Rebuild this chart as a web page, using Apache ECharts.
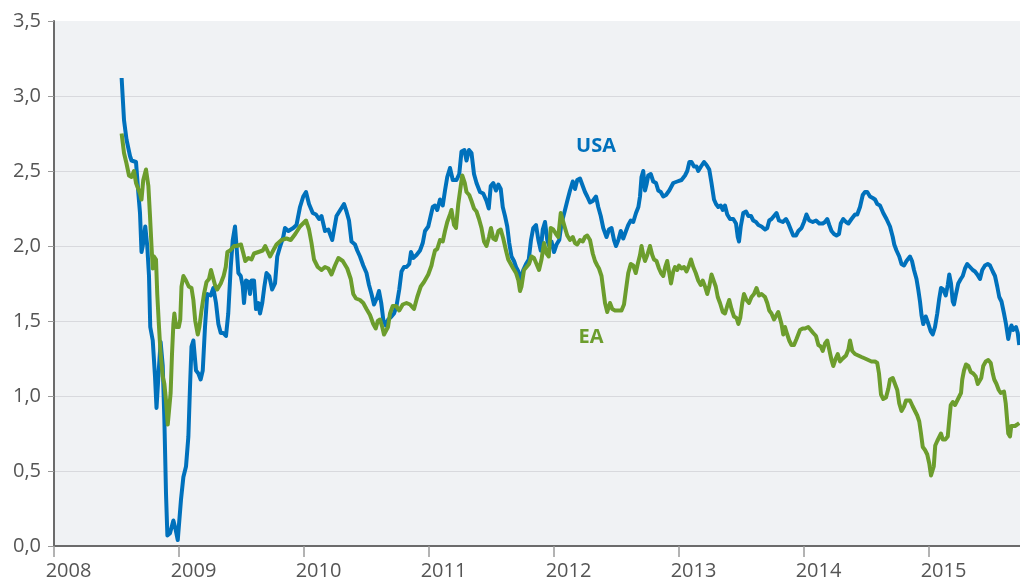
<!DOCTYPE html>
<html>
<head>
<meta charset="utf-8">
<script src="https://cdn.jsdelivr.net/npm/echarts@6/dist/echarts.min.js"></script>
<style>
  html, body { margin: 0; padding: 0; background: #fff; }
  #chart { width: 1020px; height: 582px; }
</style>
</head>
<body>
<div id="chart"></div>
<script>
// time in decimal years
const usaYears = [
  2008.541, 2008.56, 2008.58, 2008.608, 2008.62, 2008.656, 2008.675, 2008.688, 2008.70, 2008.71,
  2008.73, 2008.746, 2008.76, 2008.77, 2008.79, 2008.808, 2008.82, 2008.838, 2008.853, 2008.87,
  2008.883, 2008.896, 2008.907, 2008.928, 2008.955, 2008.973, 2008.99, 2009.003, 2009.016, 2009.035,
  2009.056, 2009.075, 2009.088, 2009.10, 2009.115, 2009.136, 2009.155, 2009.173, 2009.19, 2009.208,
  2009.226, 2009.254, 2009.275, 2009.296, 2009.315, 2009.334, 2009.354, 2009.376, 2009.394, 2009.414,
  2009.43, 2009.448, 2009.46, 2009.475, 2009.494, 2009.51, 2009.52, 2009.536, 2009.555, 2009.568,
  2009.58, 2009.60, 2009.616, 2009.635, 2009.648, 2009.666, 2009.683, 2009.70, 2009.722, 2009.745,
  2009.768, 2009.786, 2009.81, 2009.834, 2009.848, 2009.875, 2009.914, 2009.94, 2009.968, 2009.994,
  2010.016, 2010.04, 2010.07, 2010.096, 2010.12, 2010.14, 2010.168, 2010.195, 2010.226, 2010.26,
  2010.29, 2010.32, 2010.34, 2010.36, 2010.38, 2010.408, 2010.426, 2010.448, 2010.474, 2010.50,
  2010.52, 2010.54, 2010.56, 2010.586, 2010.60, 2010.618, 2010.634, 2010.654, 2010.674, 2010.70,
  2010.72, 2010.74, 2010.762, 2010.78, 2010.80, 2010.82, 2010.842, 2010.856, 2010.874, 2010.90,
  2010.928, 2010.95, 2010.968, 2010.994, 2011.008, 2011.03, 2011.048, 2011.066, 2011.088, 2011.11,
  2011.128, 2011.146, 2011.168, 2011.19, 2011.22, 2011.242, 2011.26, 2011.283, 2011.30, 2011.32,
  2011.34, 2011.36, 2011.38, 2011.408, 2011.434, 2011.46, 2011.478, 2011.494, 2011.514, 2011.536,
  2011.555, 2011.574, 2011.59, 2011.608, 2011.626, 2011.642, 2011.66, 2011.68, 2011.696, 2011.715,
  2011.734, 2011.754, 2011.776, 2011.798, 2011.816, 2011.834, 2011.856, 2011.875, 2011.894, 2011.91,
  2011.928, 2011.946, 2011.962, 2011.98, 2012.0, 2012.02, 2012.042, 2012.06, 2012.088, 2012.106,
  2012.128, 2012.15, 2012.168, 2012.186, 2012.208, 2012.23, 2012.248, 2012.266, 2012.288, 2012.31,
  2012.336, 2012.354, 2012.374, 2012.394, 2012.42, 2012.44, 2012.46, 2012.48, 2012.496, 2012.515,
  2012.534, 2012.554, 2012.576, 2012.594, 2012.614, 2012.634, 2012.656, 2012.675, 2012.688, 2012.70,
  2012.714, 2012.728, 2012.74, 2012.754, 2012.774, 2012.794, 2012.816, 2012.834, 2012.854, 2012.874,
  2012.896, 2012.922, 2012.954, 2012.986, 2013.02, 2013.048, 2013.066, 2013.083, 2013.10, 2013.12,
  2013.14, 2013.154, 2013.176, 2013.20, 2013.22, 2013.242, 2013.26, 2013.28, 2013.296, 2013.314,
  2013.334, 2013.35, 2013.368, 2013.386, 2013.408, 2013.434, 2013.456, 2013.47, 2013.48, 2013.494,
  2013.514, 2013.536, 2013.555, 2013.576, 2013.594, 2013.616, 2013.635, 2013.66, 2013.688, 2013.706,
  2013.722, 2013.74, 2013.76, 2013.78, 2013.80, 2013.83, 2013.856, 2013.875, 2013.894, 2013.914,
  2013.936, 2013.955, 2013.98, 2014.0, 2014.02, 2014.042, 2014.07, 2014.096, 2014.122, 2014.15,
  2014.168, 2014.186, 2014.202, 2014.22, 2014.24, 2014.26, 2014.28, 2014.294, 2014.314, 2014.336,
  2014.355, 2014.38, 2014.408, 2014.426, 2014.448, 2014.47, 2014.488, 2014.506, 2014.528, 2014.55,
  2014.568, 2014.586, 2014.608, 2014.634, 2014.66, 2014.688, 2014.71, 2014.722, 2014.74, 2014.762,
  2014.78, 2014.80, 2014.82, 2014.848, 2014.864, 2014.88, 2014.90, 2014.914, 2014.928, 2014.94,
  2014.954, 2014.974, 2014.995, 2015.014, 2015.03, 2015.048, 2015.066, 2015.082, 2015.096, 2015.114,
  2015.134, 2015.15, 2015.162, 2015.176, 2015.19, 2015.20, 2015.216, 2015.234, 2015.254, 2015.27,
  2015.288, 2015.306, 2015.328, 2015.35, 2015.368, 2015.386, 2015.408, 2015.426, 2015.448, 2015.47,
  2015.488, 2015.51, 2015.528, 2015.546, 2015.562, 2015.58, 2015.60, 2015.616, 2015.634, 2015.648,
  2015.66, 2015.674, 2015.696, 2015.71, 2015.722
];
const usaValues = [
  3.12, 2.84, 2.71, 2.60, 2.57, 2.56, 2.35, 2.22, 1.96, 2.00,
  2.13, 2.00, 1.80, 1.46, 1.37, 1.13, 0.92, 1.17, 1.36, 1.20,
  0.84, 0.35, 0.07, 0.085, 0.17, 0.11, 0.04, 0.04, 0.31, 0.46,
  0.53, 0.73, 1.06, 1.33, 1.37, 1.17, 1.15, 1.11, 1.17, 1.46,
  1.68, 1.67, 1.72, 1.62, 1.48, 1.42, 1.42, 1.40, 1.55, 1.86,
  2.04, 2.13, 2.00, 1.82, 1.80, 1.73, 1.62, 1.77, 1.76, 1.68,
  1.77, 1.77, 1.58, 1.62, 1.55, 1.62, 1.73, 1.82, 1.80, 1.71,
  1.75, 1.93, 2.00, 2.06, 2.12, 2.10, 2.12, 2.14, 2.26, 2.33,
  2.36, 2.28, 2.22, 2.21, 2.18, 2.20, 2.10, 2.11, 2.04, 2.20,
  2.24, 2.28, 2.23, 2.17, 2.03, 2.01, 1.97, 1.93, 1.87, 1.82,
  1.74, 1.68, 1.61, 1.66, 1.70, 1.62, 1.51, 1.47, 1.51, 1.53,
  1.55, 1.60, 1.71, 1.83, 1.86, 1.86, 1.88, 1.96, 1.92, 1.94,
  1.97, 2.02, 2.10, 2.13, 2.12, 2.26, 2.27, 2.24, 2.31, 2.27,
  2.37, 2.46, 2.52, 2.44, 2.44, 2.48, 2.63, 2.64, 2.57, 2.64,
  2.62, 2.48, 2.42, 2.36, 2.35, 2.30, 2.25, 2.40, 2.42, 2.37,
  2.41, 2.38, 2.26, 2.20, 2.13, 2.02, 1.93, 1.90, 1.86, 1.83,
  1.77, 1.84, 1.88, 1.91, 2.04, 2.12, 2.14, 2.04, 1.97, 2.11,
  2.16, 2.04, 2.00, 2.03, 1.96, 2.01, 2.04, 2.15, 2.24, 2.30,
  2.37, 2.43, 2.38, 2.44, 2.45, 2.40, 2.36, 2.33, 2.29, 2.30,
  2.33, 2.26, 2.20, 2.12, 2.06, 2.11, 2.12, 2.04, 2.00, 2.04,
  2.10, 2.05, 2.10, 2.14, 2.17, 2.16, 2.22, 2.26, 2.33, 2.46,
  2.50, 2.37, 2.41, 2.47, 2.48, 2.43, 2.42, 2.37, 2.36, 2.33,
  2.34, 2.37, 2.42, 2.43, 2.44, 2.47, 2.50, 2.56, 2.56, 2.53,
  2.53, 2.50, 2.53, 2.56, 2.54, 2.51, 2.42, 2.31, 2.28, 2.26,
  2.27, 2.24, 2.27, 2.21, 2.18, 2.18, 2.15, 2.06, 2.03, 2.13,
  2.22, 2.23, 2.20, 2.20, 2.17, 2.16, 2.14, 2.13, 2.11, 2.12,
  2.17, 2.18, 2.20, 2.22, 2.17, 2.16, 2.18, 2.15, 2.11, 2.07,
  2.07, 2.10, 2.12, 2.16, 2.21, 2.17, 2.16, 2.17, 2.15, 2.15,
  2.16, 2.18, 2.14, 2.10, 2.08, 2.07, 2.08, 2.15, 2.18, 2.16,
  2.15, 2.18, 2.21, 2.21, 2.26, 2.34, 2.36, 2.36, 2.33, 2.32,
  2.31, 2.28, 2.27, 2.22, 2.18, 2.13, 2.06, 2.01, 1.97, 1.93,
  1.88, 1.87, 1.90, 1.93, 1.90, 1.84, 1.78, 1.71, 1.63, 1.54,
  1.48, 1.53, 1.48, 1.43, 1.41, 1.46, 1.55, 1.65, 1.72, 1.71,
  1.67, 1.74, 1.81, 1.75, 1.63, 1.61, 1.68, 1.75, 1.78, 1.80,
  1.85, 1.88, 1.86, 1.84, 1.83, 1.81, 1.78, 1.84, 1.87, 1.88,
  1.87, 1.83, 1.80, 1.73, 1.66, 1.63, 1.55, 1.48, 1.38, 1.44,
  1.47, 1.44, 1.46, 1.42, 1.34
];

const eaYears = [
  2008.541, 2008.56, 2008.58, 2008.60, 2008.62, 2008.64, 2008.656, 2008.688, 2008.70, 2008.714,
  2008.736, 2008.755, 2008.768, 2008.78, 2008.79, 2008.80, 2008.816, 2008.826, 2008.84, 2008.853,
  2008.87, 2008.883, 2008.896, 2008.91, 2008.922, 2008.933, 2008.944, 2008.955, 2008.963, 2008.976,
  2008.998, 2009.01, 2009.02, 2009.035, 2009.056, 2009.078, 2009.10, 2009.115, 2009.13, 2009.15,
  2009.163, 2009.18, 2009.20, 2009.22, 2009.24, 2009.256, 2009.27, 2009.288, 2009.306, 2009.334,
  2009.357, 2009.374, 2009.387, 2009.408, 2009.44, 2009.46, 2009.496, 2009.515, 2009.53, 2009.555,
  2009.58, 2009.60, 2009.636, 2009.67, 2009.69, 2009.706, 2009.728, 2009.744, 2009.76, 2009.78,
  2009.82, 2009.86, 2009.894, 2009.93, 2009.968, 2010.016, 2010.04, 2010.06, 2010.08, 2010.11,
  2010.14, 2010.168, 2010.195, 2010.22, 2010.248, 2010.275, 2010.31, 2010.346, 2010.374, 2010.394,
  2010.416, 2010.448, 2010.474, 2010.50, 2010.528, 2010.554, 2010.574, 2010.59, 2010.608, 2010.626,
  2010.64, 2010.656, 2010.672, 2010.688, 2010.71, 2010.736, 2010.762, 2010.79, 2010.82, 2010.848,
  2010.88, 2010.906, 2010.934, 2010.96, 2010.994, 2011.02, 2011.03, 2011.048, 2011.066, 2011.088,
  2011.11, 2011.128, 2011.146, 2011.168, 2011.18, 2011.20, 2011.216, 2011.234, 2011.254, 2011.266,
  2011.286, 2011.30, 2011.322, 2011.34, 2011.36, 2011.38, 2011.40, 2011.42, 2011.44, 2011.46,
  2011.48, 2011.496, 2011.514, 2011.534, 2011.555, 2011.574, 2011.594, 2011.616, 2011.634, 2011.654,
  2011.674, 2011.696, 2011.715, 2011.728, 2011.74, 2011.76, 2011.78, 2011.80, 2011.82, 2011.84,
  2011.86, 2011.88, 2011.90, 2011.92, 2011.94, 2011.958, 2011.974, 2011.994, 2012.016, 2012.034,
  2012.054, 2012.07, 2012.088, 2012.106, 2012.128, 2012.15, 2012.168, 2012.186, 2012.208, 2012.23,
  2012.248, 2012.266, 2012.288, 2012.31, 2012.328, 2012.346, 2012.36, 2012.38, 2012.394, 2012.408,
  2012.426, 2012.448, 2012.466, 2012.488, 2012.515, 2012.54, 2012.56, 2012.576, 2012.594, 2012.614,
  2012.634, 2012.654, 2012.67, 2012.688, 2012.70, 2012.714, 2012.728, 2012.746, 2012.768, 2012.786,
  2012.80, 2012.82, 2012.84, 2012.856, 2012.874, 2012.89, 2012.906, 2012.922, 2012.936, 2012.954,
  2012.968, 2012.986, 2013.0, 2013.02, 2013.04, 2013.06, 2013.08, 2013.096, 2013.114, 2013.134,
  2013.154, 2013.174, 2013.19, 2013.208, 2013.226, 2013.242, 2013.26, 2013.275, 2013.294, 2013.31,
  2013.328, 2013.35, 2013.368, 2013.386, 2013.402, 2013.42, 2013.44, 2013.46, 2013.475, 2013.49,
  2013.506, 2013.52, 2013.54, 2013.56, 2013.58, 2013.60, 2013.62, 2013.64, 2013.66, 2013.688,
  2013.706, 2013.722, 2013.74, 2013.76, 2013.776, 2013.794, 2013.808, 2013.82, 2013.834, 2013.848,
  2013.866, 2013.882, 2013.90, 2013.92, 2013.94, 2013.968, 2013.99, 2014.008, 2014.034, 2014.054,
  2014.074, 2014.096, 2014.115, 2014.134, 2014.15, 2014.168, 2014.186, 2014.202, 2014.22, 2014.234,
  2014.254, 2014.27, 2014.288, 2014.31, 2014.336, 2014.355, 2014.368, 2014.386, 2014.408, 2014.434,
  2014.46, 2014.488, 2014.514, 2014.54, 2014.568, 2014.586, 2014.60, 2014.616, 2014.634, 2014.656,
  2014.675, 2014.688, 2014.71, 2014.728, 2014.746, 2014.762, 2014.78, 2014.80, 2014.816, 2014.848,
  2014.87, 2014.888, 2014.906, 2014.922, 2014.936, 2014.95, 2014.968, 2014.986, 2015.002, 2015.016,
  2015.026, 2015.038, 2015.05, 2015.066, 2015.082, 2015.096, 2015.11, 2015.13, 2015.15, 2015.16,
  2015.174, 2015.19, 2015.208, 2015.226, 2015.242, 2015.256, 2015.266, 2015.28, 2015.296, 2015.315,
  2015.334, 2015.354, 2015.374, 2015.39, 2015.402, 2015.418, 2015.434, 2015.454, 2015.474, 2015.494,
  2015.51, 2015.522, 2015.54, 2015.558, 2015.574, 2015.60, 2015.614, 2015.624, 2015.634, 2015.648,
  2015.658, 2015.674, 2015.688, 2015.706, 2015.722
];
const eaValues = [
  2.75, 2.62, 2.55, 2.47, 2.46, 2.50, 2.42, 2.35, 2.31, 2.44,
  2.51, 2.40, 2.20, 2.00, 1.85, 1.93, 1.91, 1.68, 1.46, 1.28,
  1.13, 1.08, 0.97, 0.81, 0.81, 1.02, 1.28, 1.48, 1.55, 1.46,
  1.46, 1.51, 1.73, 1.80, 1.77, 1.73, 1.72, 1.64, 1.50, 1.41,
  1.46, 1.57, 1.68, 1.76, 1.78, 1.84, 1.84, 1.74, 1.71, 1.75,
  1.80, 1.86, 1.96, 1.97, 2.00, 2.00, 2.01, 1.95, 1.90, 1.92,
  1.91, 1.95, 1.96, 1.97, 2.00, 1.99, 1.93, 1.92, 1.98, 2.01,
  2.04, 2.05, 2.04, 2.08, 2.13, 2.17, 2.11, 2.02, 1.91, 1.86,
  1.84, 1.86, 1.85, 1.81, 1.87, 1.92, 1.90, 1.85, 1.78, 1.68,
  1.65, 1.64, 1.62, 1.58, 1.54, 1.48, 1.45, 1.50, 1.51, 1.46,
  1.41, 1.40, 1.46, 1.55, 1.60, 1.60, 1.57, 1.61, 1.62, 1.61,
  1.58, 1.66, 1.73, 1.76, 1.81, 1.87, 1.91, 1.97, 1.98, 2.04,
  2.03, 2.10, 2.16, 2.21, 2.24, 2.14, 2.12, 2.28, 2.40, 2.47,
  2.42, 2.36, 2.34, 2.30, 2.25, 2.23, 2.18, 2.12, 2.03, 2.00,
  2.06, 2.12, 2.05, 2.04, 2.10, 2.11, 2.05, 1.97, 1.91, 1.88,
  1.85, 1.82, 1.77, 1.70, 1.73, 1.84, 1.86, 1.88, 1.93, 1.92,
  1.88, 1.84, 1.91, 2.02, 1.95, 1.93, 2.12, 2.11, 2.08, 2.06,
  2.22, 2.23, 2.12, 2.07, 2.04, 2.06, 2.02, 2.01, 2.04, 2.03,
  2.06, 2.07, 2.04, 1.95, 1.90, 1.87, 1.85, 1.80, 1.71, 1.62,
  1.56, 1.62, 1.58, 1.57, 1.57, 1.57, 1.61, 1.71, 1.82, 1.88,
  1.87, 1.82, 1.88, 1.94, 2.00, 1.94, 1.90, 1.94, 2.00, 1.94,
  1.91, 1.90, 1.85, 1.82, 1.80, 1.86, 1.90, 1.82, 1.75, 1.83,
  1.86, 1.84, 1.87, 1.85, 1.86, 1.83, 1.87, 1.91, 1.86, 1.82,
  1.77, 1.74, 1.77, 1.73, 1.68, 1.73, 1.81, 1.82, 1.73, 1.66,
  1.62, 1.56, 1.55, 1.60, 1.64, 1.58, 1.53, 1.52, 1.48, 1.52,
  1.62, 1.68, 1.64, 1.62, 1.66, 1.68, 1.72, 1.67, 1.68, 1.66,
  1.62, 1.57, 1.55, 1.51, 1.50, 1.56, 1.57, 1.48, 1.41, 1.46,
  1.41, 1.37, 1.34, 1.34, 1.38, 1.44, 1.45, 1.45, 1.46, 1.44,
  1.42, 1.40, 1.34, 1.33, 1.30, 1.35, 1.37, 1.31, 1.24, 1.20,
  1.25, 1.28, 1.23, 1.25, 1.27, 1.31, 1.37, 1.30, 1.28, 1.27,
  1.26, 1.25, 1.24, 1.23, 1.23, 1.22, 1.15, 1.01, 0.98, 0.99,
  1.05, 1.11, 1.12, 1.08, 1.04, 0.95, 0.90, 0.93, 0.97, 0.97,
  0.93, 0.90, 0.87, 0.83, 0.75, 0.66, 0.64, 0.61, 0.55, 0.47,
  0.47, 0.53, 0.67, 0.70, 0.71, 0.75, 0.71, 0.71, 0.73, 0.82,
  0.94, 0.96, 0.94, 0.97, 0.98, 1.02, 1.11, 1.17, 1.21, 1.20,
  1.16, 1.15, 1.13, 1.08, 1.07, 1.12, 1.20, 1.23, 1.24, 1.22,
  1.15, 1.11, 1.08, 1.04, 1.02, 1.03, 0.95, 0.85, 0.75, 0.73,
  0.80, 0.81, 0.80, 0.81, 0.82
];

const seriesNames = ["USA", "EA"];
const colors = ["#0071bc", "#6c9d2d"];

const xMin = 2008;
const xMax = 2015.728;

const chart = echarts.init(document.getElementById("chart"));

const option = {
  animation: false,
  grid: {
    left: 54,
    right: 0,
    top: 21,
    bottom: 36,
    show: true,
    backgroundColor: "#f0f2f4",
    borderWidth: 0,
  },
  xAxis: {
    type: "value",
    min: xMin,
    max: xMax,
    interval: 1,
    axisLine: { lineStyle: { color: "#6b6b6b", width: 2 } },
    axisTick: { length: 11, lineStyle: { color: "#9a9a9a", width: 1.5 } },
    axisLabel: {
      formatter: (v) => (Number.isInteger(v) ? String(v) : ""),
      showMaxLabel: false,
      color: "#555",
      fontFamily: "Open Sans",
      fontSize: 20,
      margin: 15,
      padding: [0, 0, 0, 29],
    },
    splitLine: { show: false },
  },
  yAxis: {
    type: "value",
    min: 0,
    max: 3.5,
    interval: 0.5,
    axisLine: { show: true, lineStyle: { color: "#6b6b6b", width: 2 } },
    axisTick: { show: true, length: 6, lineStyle: { color: "#9a9a9a" } },
    axisLabel: {
      formatter: (v) => v.toFixed(1).replace(".", ","),
      color: "#555",
      fontFamily: "Open Sans",
      fontSize: 20,
      margin: 13,
    },
    splitLine: { showMaxLine: false, lineStyle: { color: "#d8d9dd", width: 1 } },
  },
  series: [
    {
      name: seriesNames[0],
      type: "line",
      showSymbol: false,
      data: usaYears.map((t, i) => [t, usaValues[i]]),
      lineStyle: { color: colors[0], width: 4, join: "round" },
      z: 3,
    },
    {
      name: seriesNames[1],
      type: "line",
      showSymbol: false,
      data: eaYears.map((t, i) => [t, eaValues[i]]),
      lineStyle: { color: colors[1], width: 4, join: "round" },
      z: 4,
    },
  ],
  graphic: [
    {
      type: "text",
      x: 596,
      y: 146,
      style: {
        text: seriesNames[0],
        fill: colors[0],
        font: "bold 20px 'Open Sans'",
        textAlign: "center",
        textVerticalAlign: "middle",
      },
    },
    {
      type: "text",
      x: 591,
      y: 337,
      style: {
        text: seriesNames[1],
        fill: colors[1],
        font: "bold 20px 'Open Sans'",
        textAlign: "center",
        textVerticalAlign: "middle",
      },
    },
  ],
};

chart.setOption(option);
</script>
</body>
</html>
